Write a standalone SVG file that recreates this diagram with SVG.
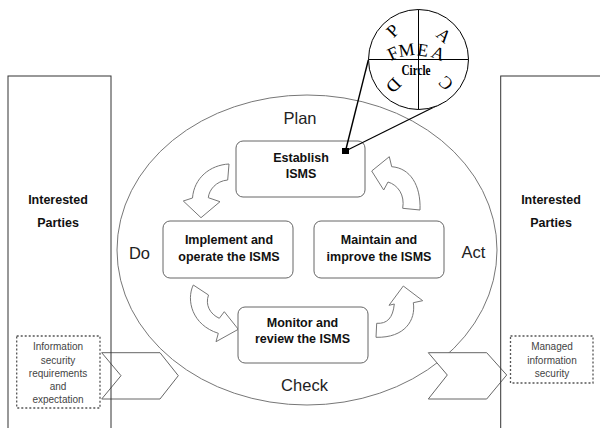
<svg xmlns="http://www.w3.org/2000/svg" width="600" height="428" viewBox="0 0 600 428">
  <style>
    .lbl { font-family: "Liberation Sans", Arial, sans-serif; font-size: 16.5px; fill: #222; text-anchor: middle; }
    .box { fill: #fff; stroke: #666; stroke-width: 1; }
    .btxt { font-family: "Liberation Sans", Arial, sans-serif; font-size: 12.5px; font-weight: bold; fill: #111; text-anchor: middle; }
    .party { fill: none; stroke: #333; stroke-width: 1; }
    .note { fill: #fff; stroke: #555; stroke-width: 1.3; stroke-dasharray: 2 2; }
    .ntxt { font-family: "Liberation Sans", Arial, sans-serif; font-size: 10px; fill: #444; text-anchor: middle; }
    .curl { fill: #fff; stroke: #777; stroke-width: 1; stroke-linejoin: round; }
    .chev { fill: #fff; stroke: #666; stroke-width: 1; }
    .serif { font-family: "Liberation Serif", "Times New Roman", serif; font-size: 18px; fill: #000; text-anchor: middle; }
  </style>

  <rect width="600" height="428" fill="#fff"/>

  <!-- PDCA cycle ellipse -->
  <g id="cycle">
    <ellipse cx="307" cy="250" rx="190" ry="155" fill="none" stroke="#777" stroke-width="1"/>
    <text class="lbl" x="300" y="124">Plan</text>
    <text class="lbl" x="139.5" y="258.5">Do</text>
    <text class="lbl" x="473.5" y="257.5">Act</text>
    <text class="lbl" x="304.5" y="391">Check</text>
  </g>

  <!-- input / output chevrons and curved flow arrows -->
  <g id="connectors">
    <polygon class="chev" points="101.7,352.7 160,352.7 178.3,375.7 160,399 101.7,399 121,375.7"/>
    <polygon class="chev" points="428.3,352.7 486.7,352.7 506.7,375 486.7,399 428.3,399 447.3,375"/>
    <path class="curl" d="M229,164 C210,165 194,178 192.5,198 L183.3,201 L201,217.7 L220,201.7 L208.3,197.7 C209,190 216,181 227.7,180 Z"/>
    <path class="curl" d="M371.7,171 L389.3,156.7 L391.7,166.7 C410,168 421,185 420,210 L402.7,208.3 C405,195 398,185 388,182 L383.7,190 Z"/>
    <path class="curl" d="M193.3,285 C186,300 192,325 218.3,333.3 L216,341.7 L238.3,329.3 L224.3,311.7 L219.3,318.3 C210,314 205,305 208.5,295 Z"/>
    <path class="curl" d="M376,337.3 C405,338 416,320 413.3,302.7 L422.7,300.7 L403.3,286 L389,305.3 L394.3,304 C393,318 387,324 376.7,323.3 Z"/>
  </g>

  <!-- interested parties, left -->
  <g id="parties-left">
    <rect class="party" x="8" y="76" width="103" height="370"/>
    <text class="btxt" x="58" y="203.5">Interested</text>
    <text class="btxt" x="58" y="227">Parties</text>
    <rect class="note" x="16.7" y="336" width="83.3" height="72"/>
    <text class="ntxt" x="58" y="350">Information</text>
    <text class="ntxt" x="58" y="363.5">security</text>
    <text class="ntxt" x="58" y="376.5">requirements</text>
    <text class="ntxt" x="58" y="389.5">and</text>
    <text class="ntxt" x="58" y="402.5">expectation</text>
  </g>

  <!-- interested parties, right -->
  <g id="parties-right">
    <rect class="party" x="500.7" y="76" width="110" height="370"/>
    <text class="btxt" x="551" y="203.5">Interested</text>
    <text class="btxt" x="551" y="227">Parties</text>
    <rect class="note" x="510.5" y="336" width="82.5" height="47"/>
    <text class="ntxt" x="552" y="350">Managed</text>
    <text class="ntxt" x="552" y="363.5">information</text>
    <text class="ntxt" x="552" y="376.5">security</text>
  </g>

  <g id="establish">
    <rect class="box" x="236" y="141" width="129" height="56" rx="7"/>
    <text class="btxt" x="301" y="162">Establish</text>
    <text class="btxt" x="301" y="178">ISMS</text>
  </g>
  <g id="implement">
    <rect class="box" x="163" y="221" width="130" height="57" rx="7"/>
    <text class="btxt" x="229" y="243.5">Implement and</text>
    <text class="btxt" x="229" y="260.5">operate the ISMS</text>
  </g>
  <g id="maintain">
    <rect class="box" x="314" y="221" width="130" height="57" rx="7"/>
    <text class="btxt" x="379" y="243.5">Maintain and</text>
    <text class="btxt" x="379" y="260.5">improve the ISMS</text>
  </g>
  <g id="monitor">
    <rect class="box" x="238" y="307" width="130" height="56" rx="7"/>
    <text class="btxt" x="302.5" y="327">Monitor and</text>
    <text class="btxt" x="302.5" y="343">review the ISMS</text>
  </g>

  <!-- FMEA callout -->
  <g id="fmea">
    <line x1="368.3" y1="60" x2="345.5" y2="151" stroke="#000" stroke-width="1.4"/>
    <line x1="441.7" y1="103.3" x2="345.5" y2="151" stroke="#000" stroke-width="1.2"/>
    <rect x="342" y="148" width="7" height="6" fill="#000"/>
    <circle cx="418.5" cy="59.5" r="50" fill="#fff" stroke="#000" stroke-width="1"/>
    <line x1="418.5" y1="9.5" x2="418.5" y2="109.5" stroke="#000" stroke-width="1"/>
    <line x1="368.5" y1="59.5" x2="468.5" y2="59.5" stroke="#000" stroke-width="1"/>
    <text class="serif" transform="translate(397,35) rotate(-45)">P</text>
    <text class="serif" transform="translate(440,40) rotate(40)">A</text>
    <text class="serif" transform="translate(389.5,81) rotate(135)">D</text>
    <text class="serif" transform="translate(450,79) rotate(225)">C</text>
    <text class="serif" transform="translate(395.5,59) rotate(-25)">F</text>
    <text class="serif" transform="translate(407.5,56) rotate(-8)">M</text>
    <text class="serif" transform="translate(422,56) rotate(8)">E</text>
    <text class="serif" transform="translate(436,59) rotate(22)">A</text>
    <text x="416" y="74.5" font-family="'Liberation Serif', 'Times New Roman', serif" font-size="15.5" font-weight="bold" text-anchor="middle" textLength="29" lengthAdjust="spacingAndGlyphs">Circle</text>
  </g>
</svg>
